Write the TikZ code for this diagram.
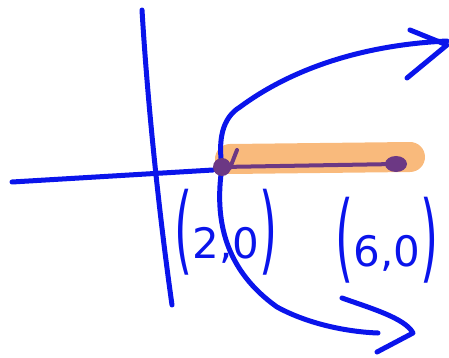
\documentclass[tikz,border=0pt]{standalone}
\usepackage{fontspec}
\setmainfont{DejaVu Sans}
\usepackage{graphicx}
\usepackage{xcolor}
\usepackage{tikz}
\usetikzlibrary{arrows.meta, positioning, calc}
\definecolor{pen}{RGB}{10,20,235}
\definecolor{hilite}{RGB}{249,186,124}
\definecolor{plum}{RGB}{108,56,132}
\newcommand{\tallparen}[1]{\raisebox{-4pt}{\scalebox{1.1}[2.3]{#1}}}

\begin{document}
\begin{tikzpicture}[x=1pt, y=-1pt, ink/.style={draw=pen, line width=5pt, line cap=round, line join=round}, every node/.style={text=pen, inner sep=0pt, font=\fontsize{42}{42}\selectfont}]
    \useasboundingbox (0,0) rectangle (449,358);
    % axes
    \draw[ink] (12,182) -- (213,170);
    \draw[ink] (142,10) .. controls (148,110) and (160,220) .. (172,305);
    % highlighted interval
    \draw[hilite, line width=30pt, line cap=round] (230,159) -- (410,157);
    \coordinate (V) at (222,167);
    \coordinate (F) at (396,164);
    % parabola
    \draw[ink] (V) .. controls (218,140) and (222,118) .. (240,107) .. controls (290,70) and (360,45) .. (447,41);
    \draw[ink] (410,30) -- (447,45) -- (407,78);
    \draw[ink] (V) .. controls (214,220) and (225,270) .. (277,307) .. controls (310,325) and (350,332) .. (378,333);
    \draw[ink] (342,298) .. controls (370,308) and (405,318) .. (413,333) -- (377,352);
    % segment
    \draw[plum, line width=4pt, line cap=round] (V) -- (F);
    \draw[plum, line width=4pt, line cap=round] (237,150) -- (230,168);
    \fill[plum] (V) circle (9pt);
    \fill[plum] (F) ellipse (11pt and 8pt);
    % labels
    \node (L2) at (226,232) {\tallparen{(}2,0\tallparen{)}};
    \node (L6) at (387,240) {\tallparen{(}6,0\tallparen{)}};
\end{tikzpicture}
\end{document}
